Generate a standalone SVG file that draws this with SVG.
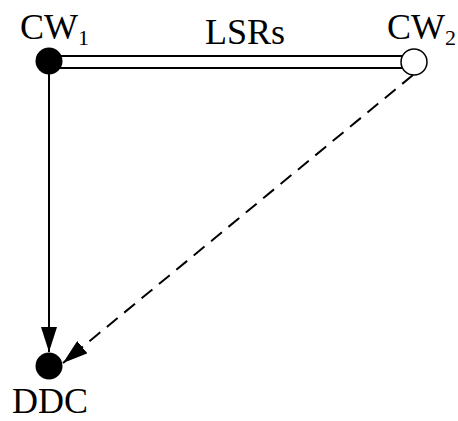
<svg xmlns="http://www.w3.org/2000/svg" width="458" height="421" viewBox="0 0 458 421">
<defs>
<style>
text{font-family:"Liberation Serif","Times New Roman",serif;font-size:36px;fill:#000}
.sub{font-size:22px}
.line{stroke:#000;stroke-width:2;fill:none}
</style>
<marker id="ah" viewBox="0 0 25 16" refX="25" refY="8" markerWidth="25" markerHeight="16" markerUnits="userSpaceOnUse" orient="auto">
<path d="M0,0 L25,8 L0,16 Z" fill="#000"/>
</marker>
</defs>
<rect width="458" height="421" fill="#fff"/>
<g id="connectors">
<rect x="49" y="56" width="353" height="12" fill="#fff" stroke="#000" stroke-width="2"/>
<line class="line" x1="49" y1="74" x2="49" y2="352" marker-end="url(#ah)"/>
<line class="line" x1="413" y1="75" x2="63" y2="363" stroke-dasharray="14,8.5" marker-end="url(#ah)"/>
</g>
<g id="cw1">
<circle cx="49" cy="61" r="13.5" fill="#000"/>
<text x="20" y="39">CW<tspan class="sub" dy="6">1</tspan></text>
</g>
<g id="cw2">
<circle cx="414" cy="62" r="13" fill="#fff" stroke="#000" stroke-width="1.5"/>
<text x="387" y="39">CW<tspan class="sub" dy="6">2</tspan></text>
</g>
<g id="lsrs">
<text x="245" y="44" text-anchor="middle">LSRs</text>
</g>
<g id="ddc">
<circle cx="49" cy="366" r="13.5" fill="#000"/>
<text x="12" y="413">DDC</text>
</g>
</svg>
